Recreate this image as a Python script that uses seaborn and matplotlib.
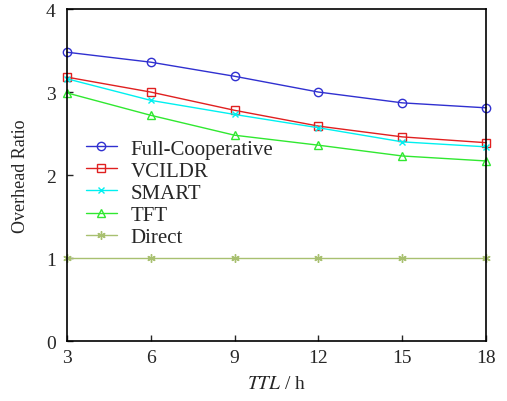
import matplotlib
matplotlib.use('Agg')
import matplotlib.pyplot as plt
import seaborn as sns
import pandas as pd

# Data
ttl = [3, 6, 9, 12, 15, 18]
full_coop = [3.48, 3.36, 3.19, 3.00, 2.87, 2.81]
vcildr = [3.18, 3.00, 2.78, 2.59, 2.46, 2.39]
smart = [3.16, 2.90, 2.73, 2.57, 2.40, 2.34]
tft = [2.99, 2.72, 2.48, 2.36, 2.23, 2.17]
direct = [1, 1, 1, 1, 1, 1]

series_names = ['Full-Cooperative', 'VCILDR', 'SMART', 'TFT', 'Direct']
series_vals = [full_coop, vcildr, smart, tft, direct]
colors = ['#3030d0', '#e02020', '#00f0f0', '#30e830', '#a8c070']
markers = ['o', 's', 'x', '^', (6, 2, 0)]
msizes = [6, 5.5, 4.5, 6, 6]

rows = []
for name, vals in zip(series_names, series_vals):
    for t, v in zip(ttl, vals):
        rows.append({'TTL': t, 'ratio': v, 'method': name})
df = pd.DataFrame(rows)

sns.set_style('ticks')
plt.rcParams['font.family'] = ['Liberation Serif', 'DejaVu Serif']
plt.rcParams['mathtext.fontset'] = 'stix'

fig = plt.figure(figsize=(5.07, 4.02), dpi=100)
ax = fig.add_axes([0.132, 0.149, 0.827, 0.826])

for name, c, m, ms in zip(series_names, colors, markers, msizes):
    sub = df[df['method'] == name]
    sns.lineplot(data=sub, x='TTL', y='ratio', ax=ax, color=c, marker=m,
                 markersize=ms, markerfacecolor='none', markeredgecolor=c,
                 markeredgewidth=1.0, linewidth=1.0, label=name, clip_on=False)

ax.set_xlim(3, 18)
ax.set_ylim(0, 4)
ax.set_xticks(ttl)
ax.set_yticks([0, 1, 2, 3, 4])
ax.tick_params(direction='in', labelsize=14, length=4, width=1,
               top=False, right=False)
ax.tick_params(axis='y', pad=8)
ax.tick_params(axis='x', pad=6)
for s in ax.spines.values():
    s.set_linewidth(1.2)
    s.set_color('black')
ax.set_xlabel('$TTL$ / h', fontsize=14, labelpad=6)
ax.set_ylabel('Overhead Ratio', fontsize=13, labelpad=12)
ax.legend(loc='upper left', bbox_to_anchor=(0.0, 0.665), frameon=False,
          fontsize=15, handlelength=1.5, labelspacing=0.12, handletextpad=0.65)

fig.savefig('out.png', dpi=100)
